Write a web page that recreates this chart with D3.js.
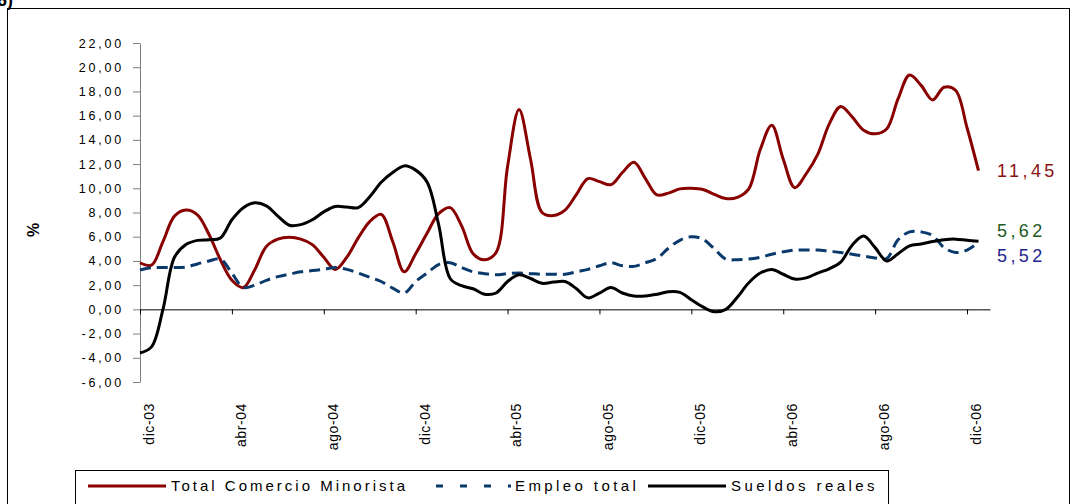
<!DOCTYPE html>
<html>
<head>
<meta charset="utf-8">
<script src="https://cdn.jsdelivr.net/npm/d3@7"></script>
<style>
	body { margin: 0; background: #fff; }
	svg { display: block; font-family: "Liberation Sans", Arial, sans-serif; }
</style>
</head>
<body>
<div id="chart"></div>
<script>
// Data (readings every half month, starting dic-03)
const step = 0.5;
const monthLabels = ["dic-03", "abr-04", "ago-04", "dic-04", "abr-05", "ago-05", "dic-05", "abr-06", "ago-06", "dic-06"];
const yTicks = [-6, -4, -2, 0, 2, 4, 6, 8, 10, 12, 14, 16, 18, 20, 22];
const seriesNames = ["Total Comercio Minorista", "Empleo total", "Sueldos reales"];
const endLabels = ["11,45", "5,62", "5,52"];

const comercio = [
	3.85, 3.65, 5.6, 7.7, 8.2, 7.8, 6.2, 4.1, 2.4, 1.8,
	3.3, 5.2, 5.8, 5.95, 5.8, 5.35, 4.3, 3.3, 4.3, 5.9,
	7.25, 7.85, 5.6, 3.1, 4.6, 6.3, 7.9, 8.4, 6.9, 4.6,
	4.1, 4.7, 11.8, 16.5, 12.4, 8.0, 7.75, 8.2, 9.5, 10.8,
	10.55, 10.3, 11.3, 12.15, 10.8, 9.45, 9.6, 9.95, 10.0, 9.9,
	9.5, 9.15, 9.25, 9.95, 13.2, 15.2, 12.4, 10.05, 11.2, 12.8,
	15.3, 16.75, 15.9, 14.8, 14.5, 14.9, 17.4, 19.35, 18.5, 17.3,
	18.35, 18.1, 15.0, 11.45
];
const empleo = [
	3.25, 3.45, 3.45, 3.45, 3.5, 3.75, 4.0, 4.15, 3.0, 1.8,
	2.0, 2.4, 2.7, 2.9, 3.1, 3.2, 3.3, 3.45, 3.3, 3.0,
	2.65, 2.3, 1.75, 1.35, 2.3, 3.0, 3.7, 3.85, 3.45, 3.1,
	2.95, 2.85, 2.95, 3.0, 2.95, 2.9, 2.9, 2.9, 3.1, 3.3,
	3.6, 3.85, 3.6, 3.55, 3.85, 4.2, 5.05, 5.7, 6.0, 5.8,
	5.0, 4.15, 4.1, 4.15, 4.3, 4.55, 4.75, 4.9, 4.9, 4.9,
	4.8, 4.7, 4.55, 4.4, 4.25, 4.2, 5.75, 6.4, 6.4, 6.1,
	5.1, 4.7, 4.9, 5.52
];
const sueldos = [
	-3.6, -3.1, 0.0, 4.3, 5.35, 5.7, 5.75, 5.9, 7.4, 8.4,
	8.8, 8.55, 7.7, 6.95, 7.0, 7.4, 8.05, 8.5, 8.45, 8.4,
	9.3, 10.5, 11.3, 11.85, 11.5, 10.5, 7.0, 2.55, 1.95, 1.7,
	1.25, 1.35, 2.3, 2.85, 2.55, 2.15, 2.25, 2.3, 1.7, 0.95,
	1.35, 1.8, 1.35, 1.1, 1.1, 1.25, 1.45, 1.4, 0.8, 0.2,
	-0.2, 0.0, 1.0, 2.2, 3.0, 3.3, 2.9, 2.5, 2.6, 3.0,
	3.35, 3.9, 5.3, 6.05, 5.1, 4.0, 4.6, 5.25, 5.4, 5.6,
	5.75, 5.8, 5.7, 5.62
];

const width = 1073, height = 504;
const colors = ["#880000", "#0a3a6b", "#000000"];
const labelColors = ["#8b1212", "#1f5a1f", "#1f1f8f"];

const svg = d3.select("#chart")
	.append("svg")
	.attr("width", width)
	.attr("height", height);

// Outer frame and cut-off title (clipped at the top, as in the source)
svg.append("rect")
	.attr("x", 7.5).attr("y", 8.5)
	.attr("width", 1062).attr("height", 540)
	.attr("fill", "none")
	.attr("stroke", "#000");

svg.append("text")
	.attr("x", -3).attr("y", 6)
	.attr("font-size", 18)
	.attr("font-weight", "bold")
	.text("6)");

// Scales
const x = d3.scaleLinear().domain([0, 37]).range([140, 990]);
const y = d3.scaleLinear().domain([-6, 22]).range([382, 43]);

const fmt = d => (d < 0 ? "-" : "") + Math.abs(d).toFixed(2).replace(".", ",");

// Y axis
const yAxis = svg.append("g")
	.attr("transform", "translate(140,0)")
	.call(d3.axisLeft(y).tickValues(yTicks).tickSize(7).tickSizeOuter(0).tickPadding(9).tickFormat(fmt));
yAxis.select(".domain").attr("stroke", "#808080");
yAxis.selectAll(".tick line").attr("stroke", "#808080");
yAxis.selectAll("text")
	.attr("font-size", 12.5)
	.attr("letter-spacing", "2.8px")
	.attr("fill", "#000");

// X axis on the zero line
const xAxis = svg.append("g")
	.attr("transform", `translate(0,${y(0)})`)
	.call(d3.axisBottom(x).tickValues(d3.range(0, 37, 4)).tickSize(5).tickSizeOuter(0).tickFormat(""));
xAxis.select(".domain").attr("stroke", "#000");

svg.append("g")
	.selectAll("text")
	.data(monthLabels)
	.enter()
	.append("text")
	.attr("transform", (d, i) => `translate(${x(i * 4) + 9},403) rotate(-90)`)
	.attr("text-anchor", "end")
	.attr("dy", "0.35em")
	.attr("font-size", 14)
	.attr("letter-spacing", "0.6px")
	.text(d => d);

// Y title
svg.append("text")
	.attr("transform", "translate(33,230) rotate(-90)")
	.attr("text-anchor", "middle")
	.attr("dy", "0.35em")
	.attr("font-size", 16)
	.attr("font-weight", "bold")
	.text("%");

// Lines
const line = d3.line()
	.x((d, i) => x(i * step))
	.y(d => y(d))
	.curve(d3.curveCatmullRom.alpha(0.5));

const series = [comercio, empleo, sueldos];

svg.append("g")
	.selectAll("path")
	.data(series)
	.enter()
	.append("path")
	.attr("d", line)
	.attr("fill", "none")
	.attr("stroke", (d, i) => colors[i])
	.attr("stroke-width", 3)
	.attr("stroke-linejoin", "round")
	.attr("stroke-dasharray", (d, i) => i === 1 ? "11,6" : null);

// End value labels (green/blue nudged apart)
const labelShift = [0, -11, 13];
const labelSeries = [comercio, sueldos, empleo];
svg.append("g")
	.selectAll("text")
	.data(endLabels)
	.enter()
	.append("text")
	.attr("x", 997)
	.attr("y", (d, i) => y(labelSeries[i][labelSeries[i].length - 1]) + labelShift[i])
	.attr("dy", "0.35em")
	.attr("font-size", 18)
	.attr("letter-spacing", "3.4px")
	.attr("fill", (d, i) => labelColors[i])
	.text(d => d);

// Legend
const legend = svg.append("g").attr("id", "legend");
legend.append("rect")
	.attr("x", 75.5).attr("y", 470.5)
	.attr("width", 813).attr("height", 60)
	.attr("fill", "#fff")
	.attr("stroke", "#000");

const legendX = [88, 433, 648];
const legendSpacing = [3.0, 3.4, 3.4];
const legendEntry = legend.selectAll("g.legend_entry")
	.data(seriesNames)
	.enter()
	.append("g")
	.attr("class", "legend_entry")
	.attr("transform", (d, i) => `translate(${legendX[i]},486)`);

legendEntry.append("line")
	.attr("x1", (d, i) => i === 1 ? 3 : 0).attr("x2", 78)
	.attr("stroke", (d, i) => colors[i])
	.attr("stroke-width", 3)
	.attr("stroke-dasharray", (d, i) => i === 1 ? "7,17" : null);

legendEntry.append("text")
	.attr("x", (d, i) => i === 1 ? 82 : 83)
	.attr("dy", "0.36em")
	.attr("font-size", 15)
	.attr("letter-spacing", (d, i) => legendSpacing[i] + "px")
	.text(d => d);
</script>
</body>
</html>
